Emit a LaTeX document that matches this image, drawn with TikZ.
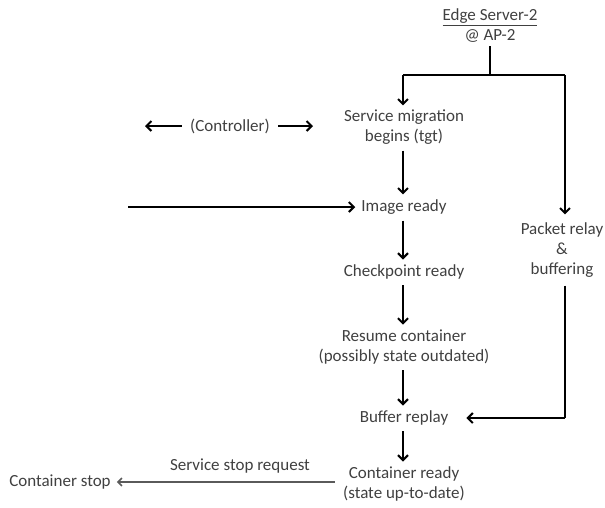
\documentclass[tikz,border=0pt]{standalone}
\usepackage{fontspec}
\setmainfont{Carlito}
\usetikzlibrary{arrows.meta}
\definecolor{txtgray}{RGB}{64,64,64}
\definecolor{stopgray}{RGB}{90,90,90}
\tikzset{
  lbl/.style={font=\fontsize{17}{20}\selectfont, text=txtgray, align=center, inner sep=2pt},
  flow/.style={line width=2pt, -{Straight Barb[length=5pt,width=10pt,line width=2pt]}},
  wire/.style={line width=2pt},
  stoparrow/.style={line width=1.3pt, draw=stopgray, -{Straight Barb[length=4pt,width=8pt,line width=1.5pt]}}
}
\begin{document}
\begin{tikzpicture}[x=1pt,y=-1pt]%
\useasboundingbox (0,0) rectangle (605,507);%
% edge server header
\node[lbl] (srv) at (490,26) {\underline{Edge Server-2}\\@ AP-2};%
\coordinate (split) at (490,75);%
\coordinate (splitL) at (403,75);%
\coordinate (splitR) at (565,75);%
% main column
\node[lbl] (mig) at (404,127) {Service migration\\begins (tgt)};%
\node[lbl] (ctrl) at (230,126) {(Controller)};%
\node[lbl] (img) at (404,207) {Image ready};%
\node[lbl] (chk) at (404,272) {Checkpoint ready};%
\node[lbl] (res) at (404,347) {Resume container\\(possibly state outdated)};%
\node[lbl] (buf) at (404,418) {Buffer replay};%
\node[lbl] (rdy) at (404,484) {Container ready\\(state up-to-date)};%
% side nodes
\node[lbl] (relay) at (562,250) {Packet relay\\\&\\buffering};%
\node[lbl] (stop) at (60,482) {Container stop};%
\node[lbl] (req) at (240,466) {Service stop request};%
\coordinate (inflow) at (128,207);%
\coordinate (ctrlL) at (145,126);%
\coordinate (ctrlR) at (313,126);%
\coordinate (relayB) at (565,418);%
% connectors
\draw[wire] ([yshift=-1pt]srv.south) -- (split);%
\draw[wire] (splitL) -- (splitR);%
\draw[flow] (splitL) -- ([yshift=2pt]mig.north -| splitL);%
\draw[flow] (splitR) -- ([yshift=6pt]relay.north -| splitR);%
\draw[flow] ([xshift=-6pt]ctrl.west) -- (ctrlL);%
\draw[flow] ([xshift=6pt]ctrl.east) -- (ctrlR);%
\draw[flow] ([yshift=-4pt]mig.south -| splitL) -- ([yshift=3pt]img.north -| splitL);%
\draw[flow] (inflow) -- ([xshift=-4pt]img.west);%
\draw[flow] ([yshift=-4pt]img.south -| splitL) -- ([yshift=3pt]chk.north -| splitL);%
\draw[flow] ([yshift=-4pt]chk.south -| splitL) -- ([yshift=3pt]res.north -| splitL);%
\draw[flow] ([yshift=-4pt]res.south -| splitL) -- ([yshift=3pt]buf.north -| splitL);%
\draw[flow] ([yshift=-4pt]buf.south -| splitL) -- ([yshift=3pt]rdy.north -| splitL);%
\draw[wire] ([yshift=-6pt]relay.south -| splitR) -- (relayB);%
\draw[flow] (relayB) -- ([xshift=16pt]buf.east);%
\draw[stoparrow] ([xshift=-6pt]rdy.west |- stop) -- ([xshift=4pt]stop.east);%
\end{tikzpicture}
\end{document}
